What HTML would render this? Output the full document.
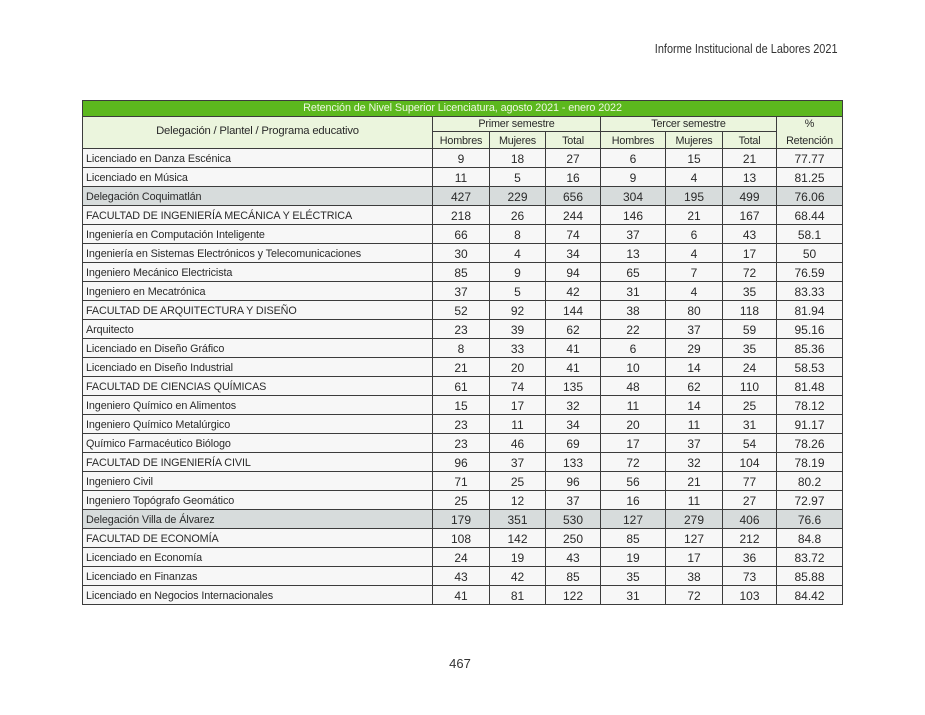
<!DOCTYPE html>
<html><head><meta charset="utf-8">
<style>
html,body{margin:0;padding:0;background:#fff;}
body{width:925px;height:715px;position:relative;overflow:hidden;font-family:"Liberation Sans",sans-serif;color:#2a2a2a;}
.a{position:absolute;}
.h{position:absolute;height:1px;background:#3c3c3c;}
.v{position:absolute;width:1px;background:#3c3c3c;}
.t{position:absolute;white-space:nowrap;}
.row{position:absolute;left:83px;width:759px;height:18px;font-size:12px;line-height:20px;}
.row span{position:absolute;top:0;text-align:center;}
.row .n{left:3px;text-align:left;font-size:10.8px;letter-spacing:-0.1px;}
.c2{left:350px;width:56px}.c3{left:407px;width:55px}.c4{left:463px;width:54px}
.c5{left:518px;width:64px}.c6{left:583px;width:56px}.c7{left:640px;width:53px}.c8{left:694px;width:65px}
.g{background:#d7dcdc;}
.hd{font-size:10.8px;text-align:center;position:absolute;letter-spacing:-0.2px;}
</style></head><body>

<div class="t" style="right:87px;top:41px;font-size:13px;transform:scaleX(0.84);transform-origin:right center;color:#333;">Informe Institucional de Labores 2021</div>

<!-- backgrounds -->
<div class="a" style="left:82px;top:100px;width:761px;height:17px;background:#5cb81e;"></div>
<div class="a" style="left:82px;top:117px;width:761px;height:31px;background:#ebf5dd;"></div>
<div class="a" style="left:82px;top:149px;width:761px;height:456px;background:#f7f7f7;"></div>
<div class="a g" style="left:82px;top:187px;width:761px;height:18px;"></div>
<div class="a g" style="left:82px;top:510px;width:761px;height:18px;"></div>

<!-- title -->
<div class="t" style="left:82px;width:761px;top:101px;height:15px;line-height:15px;text-align:center;font-size:10.8px;color:#eef8e2;letter-spacing:-0.1px;">Retención de Nivel Superior Licenciatura, agosto 2021 - enero 2022</div>

<!-- header text -->
<div class="hd" style="left:83px;width:349px;top:125px;font-size:11.3px;">Delegación / Plantel / Programa educativo</div>
<div class="hd" style="left:433px;width:167px;top:117px;line-height:15px;">Primer semestre</div>
<div class="hd" style="left:601px;width:175px;top:117px;line-height:15px;">Tercer semestre</div>
<div class="hd" style="left:433px;width:56px;top:133px;line-height:16px;">Hombres</div>
<div class="hd" style="left:490px;width:55px;top:133px;line-height:16px;">Mujeres</div>
<div class="hd" style="left:546px;width:54px;top:133px;line-height:16px;">Total</div>
<div class="hd" style="left:601px;width:64px;top:133px;line-height:16px;">Hombres</div>
<div class="hd" style="left:666px;width:56px;top:133px;line-height:16px;">Mujeres</div>
<div class="hd" style="left:723px;width:53px;top:133px;line-height:16px;">Total</div>
<div class="hd" style="left:777px;width:65px;top:117px;line-height:15px;">%</div>
<div class="hd" style="left:777px;width:65px;top:133px;line-height:16px;">Retención</div>

<!-- data rows -->
<div class="row" style="top:149px"><span class="n">Licenciado en Danza Escénica</span><span class="c2">9</span><span class="c3">18</span><span class="c4">27</span><span class="c5">6</span><span class="c6">15</span><span class="c7">21</span><span class="c8">77.77</span></div>
<div class="row" style="top:168px"><span class="n">Licenciado en Música</span><span class="c2">11</span><span class="c3">5</span><span class="c4">16</span><span class="c5">9</span><span class="c6">4</span><span class="c7">13</span><span class="c8">81.25</span></div>
<div class="row" style="top:187px"><span class="n">Delegación Coquimatlán</span><span class="c2">427</span><span class="c3">229</span><span class="c4">656</span><span class="c5">304</span><span class="c6">195</span><span class="c7">499</span><span class="c8">76.06</span></div>
<div class="row" style="top:206px"><span class="n">FACULTAD DE INGENIERÍA MECÁNICA Y ELÉCTRICA</span><span class="c2">218</span><span class="c3">26</span><span class="c4">244</span><span class="c5">146</span><span class="c6">21</span><span class="c7">167</span><span class="c8">68.44</span></div>
<div class="row" style="top:225px"><span class="n">Ingeniería en Computación Inteligente</span><span class="c2">66</span><span class="c3">8</span><span class="c4">74</span><span class="c5">37</span><span class="c6">6</span><span class="c7">43</span><span class="c8">58.1</span></div>
<div class="row" style="top:244px"><span class="n">Ingeniería en Sistemas Electrónicos y Telecomunicaciones</span><span class="c2">30</span><span class="c3">4</span><span class="c4">34</span><span class="c5">13</span><span class="c6">4</span><span class="c7">17</span><span class="c8">50</span></div>
<div class="row" style="top:263px"><span class="n">Ingeniero Mecánico Electricista</span><span class="c2">85</span><span class="c3">9</span><span class="c4">94</span><span class="c5">65</span><span class="c6">7</span><span class="c7">72</span><span class="c8">76.59</span></div>
<div class="row" style="top:282px"><span class="n">Ingeniero en Mecatrónica</span><span class="c2">37</span><span class="c3">5</span><span class="c4">42</span><span class="c5">31</span><span class="c6">4</span><span class="c7">35</span><span class="c8">83.33</span></div>
<div class="row" style="top:301px"><span class="n">FACULTAD DE ARQUITECTURA Y DISEÑO</span><span class="c2">52</span><span class="c3">92</span><span class="c4">144</span><span class="c5">38</span><span class="c6">80</span><span class="c7">118</span><span class="c8">81.94</span></div>
<div class="row" style="top:320px"><span class="n">Arquitecto</span><span class="c2">23</span><span class="c3">39</span><span class="c4">62</span><span class="c5">22</span><span class="c6">37</span><span class="c7">59</span><span class="c8">95.16</span></div>
<div class="row" style="top:339px"><span class="n">Licenciado en Diseño Gráfico</span><span class="c2">8</span><span class="c3">33</span><span class="c4">41</span><span class="c5">6</span><span class="c6">29</span><span class="c7">35</span><span class="c8">85.36</span></div>
<div class="row" style="top:358px"><span class="n">Licenciado en Diseño Industrial</span><span class="c2">21</span><span class="c3">20</span><span class="c4">41</span><span class="c5">10</span><span class="c6">14</span><span class="c7">24</span><span class="c8">58.53</span></div>
<div class="row" style="top:377px"><span class="n">FACULTAD DE CIENCIAS QUÍMICAS</span><span class="c2">61</span><span class="c3">74</span><span class="c4">135</span><span class="c5">48</span><span class="c6">62</span><span class="c7">110</span><span class="c8">81.48</span></div>
<div class="row" style="top:396px"><span class="n">Ingeniero Químico en Alimentos</span><span class="c2">15</span><span class="c3">17</span><span class="c4">32</span><span class="c5">11</span><span class="c6">14</span><span class="c7">25</span><span class="c8">78.12</span></div>
<div class="row" style="top:415px"><span class="n">Ingeniero Químico Metalúrgico</span><span class="c2">23</span><span class="c3">11</span><span class="c4">34</span><span class="c5">20</span><span class="c6">11</span><span class="c7">31</span><span class="c8">91.17</span></div>
<div class="row" style="top:434px"><span class="n">Químico Farmacéutico Biólogo</span><span class="c2">23</span><span class="c3">46</span><span class="c4">69</span><span class="c5">17</span><span class="c6">37</span><span class="c7">54</span><span class="c8">78.26</span></div>
<div class="row" style="top:453px"><span class="n">FACULTAD DE INGENIERÍA CIVIL</span><span class="c2">96</span><span class="c3">37</span><span class="c4">133</span><span class="c5">72</span><span class="c6">32</span><span class="c7">104</span><span class="c8">78.19</span></div>
<div class="row" style="top:472px"><span class="n">Ingeniero Civil</span><span class="c2">71</span><span class="c3">25</span><span class="c4">96</span><span class="c5">56</span><span class="c6">21</span><span class="c7">77</span><span class="c8">80.2</span></div>
<div class="row" style="top:491px"><span class="n">Ingeniero Topógrafo Geomático</span><span class="c2">25</span><span class="c3">12</span><span class="c4">37</span><span class="c5">16</span><span class="c6">11</span><span class="c7">27</span><span class="c8">72.97</span></div>
<div class="row" style="top:510px"><span class="n">Delegación Villa de Álvarez</span><span class="c2">179</span><span class="c3">351</span><span class="c4">530</span><span class="c5">127</span><span class="c6">279</span><span class="c7">406</span><span class="c8">76.6</span></div>
<div class="row" style="top:529px"><span class="n">FACULTAD DE ECONOMÍA</span><span class="c2">108</span><span class="c3">142</span><span class="c4">250</span><span class="c5">85</span><span class="c6">127</span><span class="c7">212</span><span class="c8">84.8</span></div>
<div class="row" style="top:548px"><span class="n">Licenciado en Economía</span><span class="c2">24</span><span class="c3">19</span><span class="c4">43</span><span class="c5">19</span><span class="c6">17</span><span class="c7">36</span><span class="c8">83.72</span></div>
<div class="row" style="top:567px"><span class="n">Licenciado en Finanzas</span><span class="c2">43</span><span class="c3">42</span><span class="c4">85</span><span class="c5">35</span><span class="c6">38</span><span class="c7">73</span><span class="c8">85.88</span></div>
<div class="row" style="top:586px"><span class="n">Licenciado en Negocios Internacionales</span><span class="c2">41</span><span class="c3">81</span><span class="c4">122</span><span class="c5">31</span><span class="c6">72</span><span class="c7">103</span><span class="c8">84.42</span></div>

<!-- horizontal lines -->
<div class="h" style="left:82px;width:761px;top:100px"></div>
<div class="h" style="left:82px;width:761px;top:116px"></div>
<div class="h" style="left:432px;width:345px;top:131px"></div>
<div class="h" style="left:82px;width:761px;top:148px"></div>
<div class="h" style="left:82px;width:761px;top:167px"></div>
<div class="h" style="left:82px;width:761px;top:186px"></div>
<div class="h" style="left:82px;width:761px;top:205px"></div>
<div class="h" style="left:82px;width:761px;top:224px"></div>
<div class="h" style="left:82px;width:761px;top:243px"></div>
<div class="h" style="left:82px;width:761px;top:262px"></div>
<div class="h" style="left:82px;width:761px;top:281px"></div>
<div class="h" style="left:82px;width:761px;top:300px"></div>
<div class="h" style="left:82px;width:761px;top:319px"></div>
<div class="h" style="left:82px;width:761px;top:338px"></div>
<div class="h" style="left:82px;width:761px;top:357px"></div>
<div class="h" style="left:82px;width:761px;top:376px"></div>
<div class="h" style="left:82px;width:761px;top:395px"></div>
<div class="h" style="left:82px;width:761px;top:414px"></div>
<div class="h" style="left:82px;width:761px;top:433px"></div>
<div class="h" style="left:82px;width:761px;top:452px"></div>
<div class="h" style="left:82px;width:761px;top:471px"></div>
<div class="h" style="left:82px;width:761px;top:490px"></div>
<div class="h" style="left:82px;width:761px;top:509px"></div>
<div class="h" style="left:82px;width:761px;top:528px"></div>
<div class="h" style="left:82px;width:761px;top:547px"></div>
<div class="h" style="left:82px;width:761px;top:566px"></div>
<div class="h" style="left:82px;width:761px;top:585px"></div>
<div class="h" style="left:82px;width:761px;top:604px"></div>

<!-- vertical lines -->
<div class="v" style="left:82px;top:100px;height:505px"></div>
<div class="v" style="left:842px;top:100px;height:505px"></div>
<div class="v" style="left:432px;top:116px;height:489px"></div>
<div class="v" style="left:600px;top:116px;height:489px"></div>
<div class="v" style="left:776px;top:116px;height:489px"></div>
<div class="v" style="left:489px;top:131px;height:474px"></div>
<div class="v" style="left:545px;top:131px;height:474px"></div>
<div class="v" style="left:665px;top:131px;height:474px"></div>
<div class="v" style="left:722px;top:131px;height:474px"></div>

<div class="t" style="left:440px;width:40px;text-align:center;top:656px;font-size:13px;color:#333;">467</div>
</body></html>
